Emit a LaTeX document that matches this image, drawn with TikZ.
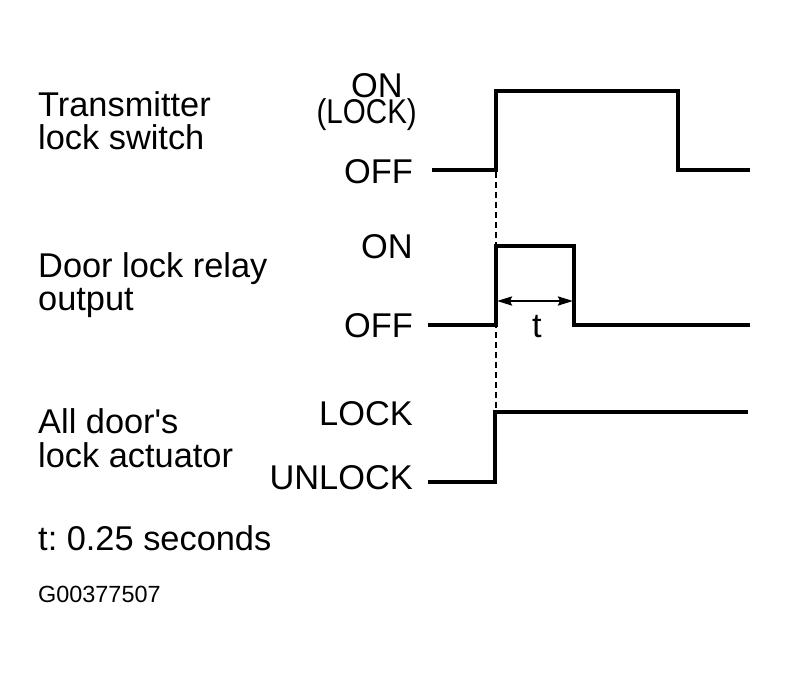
\documentclass[tikz,border=0pt]{standalone}
\usepackage{fontspec}
\setmainfont{Liberation Sans}
\usetikzlibrary{arrows.meta}
\frenchspacing
\begin{document}
\begin{tikzpicture}[x=1bp,y=-1bp,
  lbl/.style={inner sep=0pt,font=\fontsize{34.5}{34.5}\selectfont},
  lvl/.style={lbl,anchor=base east},
  txt/.style={lbl,anchor=base west},
  sig/.style={line width=3.2bp,line join=miter},
  dashln/.style={line width=2bp,dash pattern=on 6bp off 4bp},
  dimarrow/.style={line width=2.4bp,{Stealth[length=15bp,width=9bp,inset=2bp]}-{Stealth[length=15bp,width=9bp,inset=2bp]}}]
\useasboundingbox (0,0) rectangle (789,677);
% left labels
\node[txt] (t1a) at (38,117) {Transmitter};
\node[txt] (t1b) at (38,150) {lock switch};
\node[txt] (t2a) at (38,277) {Door lock relay};
\node[txt] (t2b) at (38,310) {output};
\node[txt] (t3a) at (38,433) {All door\textquotesingle s};
\node[txt] (t3b) at (38,467) {lock actuator};
\node[txt] (tnote) at (38,550) {t: 0.25 seconds};
\node[lbl,anchor=base west,font=\fontsize{23.5}{23.5}\selectfont] (code) at (38,602) {G00377507};
% level labels
\node[lvl] (on1) at (403,98) {ON};
\node[lvl,xscale=0.86] (lock1) at (417,124) {(LOCK)};
\node[lvl] (off1) at (413,183) {OFF};
\node[lvl] (on2) at (413,258) {ON};
\node[lvl] (off2) at (413,337) {OFF};
\node[lvl] (lock3) at (413,425) {LOCK};
\node[lvl] (unlock3) at (413,489) {UNLOCK};
% waveform coordinates
\coordinate (a0) at (432,170); \coordinate (a1) at (496,170); \coordinate (a2) at (496,91);
\coordinate (a3) at (678,91); \coordinate (a4) at (678,170); \coordinate (a5) at (750,170);
\coordinate (b0) at (428,325); \coordinate (b1) at (496,325); \coordinate (b2) at (496,246);
\coordinate (b3) at (574,246); \coordinate (b4) at (574,325); \coordinate (b5) at (750,325);
\coordinate (c0) at (428,482); \coordinate (c1) at (495,482); \coordinate (c2) at (495,412);
\coordinate (c3) at (748,412);
\coordinate (d0) at (496,172); \coordinate (d1) at (496,410);
\coordinate (e0) at (497,301); \coordinate (e1) at (573,301);
% waveforms
\draw[sig] (a0) -- (a1) -- (a2) -- (a3) -- (a4) -- (a5);
\draw[sig] (b0) -- (b1) -- (b2) -- (b3) -- (b4) -- (b5);
\draw[sig] (c0) -- (c1) -- (c2) -- (c3);
\draw[dashln] (d0) -- (d1);
\draw[dimarrow] (e0) -- (e1);
\node[lbl,anchor=base] (tlbl) at (537,337) {t};
\end{tikzpicture}
\end{document}
